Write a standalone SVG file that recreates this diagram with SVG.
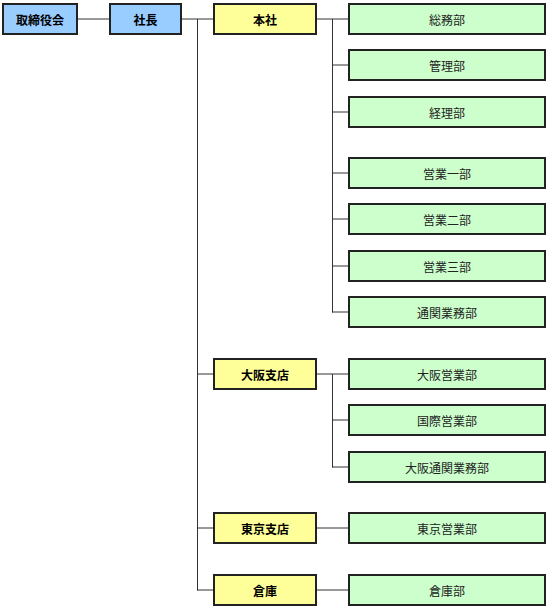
<svg xmlns="http://www.w3.org/2000/svg" width="550" height="611" viewBox="0 0 550 611">
<style>
.b{stroke:#222;stroke-width:2}
.top{fill:#99ccff}
.br{fill:#ffff99}
.dp{fill:#ccffcc}
text{font-family:"Noto Sans CJK JP","Noto Sans",sans-serif;font-size:12px;text-anchor:middle;dominant-baseline:central}
.bt{font-weight:bold;fill:#000}
.nt{fill:#222}
#connectors line{stroke:#333;stroke-width:1}
</style>
<rect width="550" height="611" fill="#fff"/>
<g id="connectors">
<line x1="78" y1="19" x2="109" y2="19"/>
<line x1="181" y1="19" x2="213" y2="19"/>
<line x1="197.5" y1="19" x2="197.5" y2="590.5"/>
<line x1="197" y1="374" x2="213" y2="374"/>
<line x1="197" y1="528" x2="213" y2="528"/>
<line x1="197" y1="590" x2="213" y2="590"/>
<line x1="316" y1="19" x2="348" y2="19"/>
<line x1="332.5" y1="19" x2="332.5" y2="312.5"/>
<line x1="332" y1="65" x2="348" y2="65"/>
<line x1="332" y1="112" x2="348" y2="112"/>
<line x1="332" y1="173" x2="348" y2="173"/>
<line x1="332" y1="219" x2="348" y2="219"/>
<line x1="332" y1="266" x2="348" y2="266"/>
<line x1="332" y1="312" x2="348" y2="312"/>
<line x1="316" y1="374" x2="348" y2="374"/>
<line x1="332.5" y1="374" x2="332.5" y2="467.5"/>
<line x1="332" y1="420" x2="348" y2="420"/>
<line x1="332" y1="467" x2="348" y2="467"/>
<line x1="316" y1="528" x2="348" y2="528"/>
<line x1="316" y1="590" x2="348" y2="590"/>
</g>
<g id="n-board"><rect class="b top" x="3" y="4" width="74" height="30"/><text class="bt" x="40" y="19">取締役会</text></g>
<g id="n-president"><rect class="b top" x="110" y="4" width="71" height="30"/><text class="bt" x="145.5" y="19">社長</text></g>
<g id="n-honsha"><rect class="b br" x="214" y="4" width="102" height="30"/><text class="bt" x="265" y="19">本社</text></g>
<g id="n-osaka"><rect class="b br" x="214" y="359" width="102" height="30"/><text class="bt" x="265" y="374">大阪支店</text></g>
<g id="n-tokyo"><rect class="b br" x="214" y="513" width="102" height="30"/><text class="bt" x="265" y="528">東京支店</text></g>
<g id="n-soko"><rect class="b br" x="214" y="575" width="102" height="30"/><text class="bt" x="265" y="590">倉庫</text></g>
<g id="n-somu"><rect class="b dp" x="349" y="4" width="196" height="30"/><text class="nt" x="447" y="19">総務部</text></g>
<g id="n-kanri"><rect class="b dp" x="349" y="50" width="196" height="30"/><text class="nt" x="447" y="65">管理部</text></g>
<g id="n-keiri"><rect class="b dp" x="349" y="97" width="196" height="30"/><text class="nt" x="447" y="112">経理部</text></g>
<g id="n-eigyo1"><rect class="b dp" x="349" y="158" width="196" height="30"/><text class="nt" x="447" y="173">営業一部</text></g>
<g id="n-eigyo2"><rect class="b dp" x="349" y="204" width="196" height="30"/><text class="nt" x="447" y="219">営業二部</text></g>
<g id="n-eigyo3"><rect class="b dp" x="349" y="251" width="196" height="30"/><text class="nt" x="447" y="266">営業三部</text></g>
<g id="n-tsukan"><rect class="b dp" x="349" y="297" width="196" height="30"/><text class="nt" x="447" y="312">通関業務部</text></g>
<g id="n-osaka-eigyo"><rect class="b dp" x="349" y="359" width="196" height="30"/><text class="nt" x="447" y="374">大阪営業部</text></g>
<g id="n-kokusai"><rect class="b dp" x="349" y="405" width="196" height="30"/><text class="nt" x="447" y="420">国際営業部</text></g>
<g id="n-osaka-tsukan"><rect class="b dp" x="349" y="452" width="196" height="30"/><text class="nt" x="447" y="467">大阪通関業務部</text></g>
<g id="n-tokyo-eigyo"><rect class="b dp" x="349" y="513" width="196" height="30"/><text class="nt" x="447" y="528">東京営業部</text></g>
<g id="n-sokobu"><rect class="b dp" x="349" y="575" width="196" height="30"/><text class="nt" x="447" y="590">倉庫部</text></g>
</svg>
